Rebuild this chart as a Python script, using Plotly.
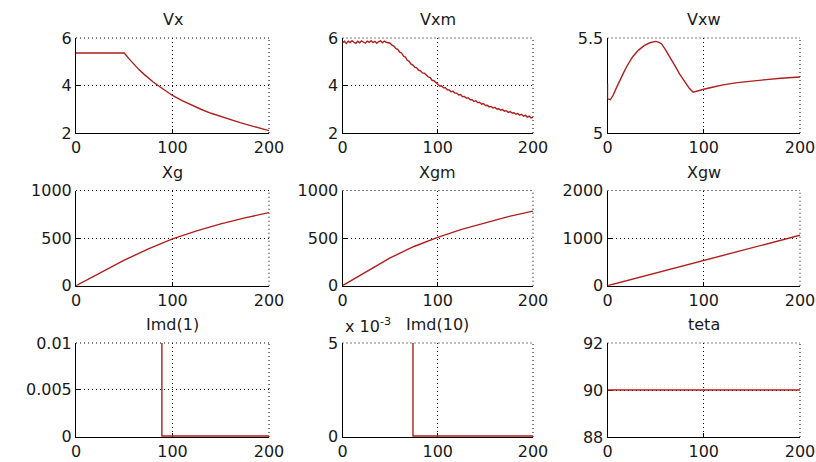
import plotly.graph_objects as go

# ---------------- data ----------------
vx_t = [0, 50, 55, 60, 65, 70, 75, 80, 85, 90, 95, 100, 110, 120, 130, 140, 150, 160, 170, 180, 190, 200]
vx_v = [5.37, 5.37, 5.12, 4.89, 4.68, 4.49, 4.31, 4.15, 4.00, 3.86, 3.72, 3.58, 3.36, 3.16, 2.99,
        2.83, 2.69, 2.56, 2.44, 2.32, 2.21, 2.10]

vxm_t = list(range(0, 201, 2))
vxm_v = [5.80, 5.86, 5.77, 5.87, 5.81, 5.89, 5.82, 5.77, 5.86, 5.80,
         5.88, 5.84, 5.78, 5.87, 5.82, 5.89, 5.81, 5.86, 5.78, 5.85,
         5.88, 5.80, 5.87, 5.82, 5.79, 5.78, 5.70, 5.66, 5.55, 5.52,
         5.40, 5.37, 5.24, 5.20, 5.06, 5.02, 4.90, 4.86, 4.76, 4.74,
         4.64, 4.62, 4.52, 4.52, 4.44, 4.36, 4.33, 4.22, 4.20, 4.10,
         4.05, 3.98, 3.99, 3.90, 3.91, 3.82, 3.81, 3.74, 3.76, 3.68,
         3.68, 3.60, 3.62, 3.53, 3.54, 3.46, 3.48, 3.40, 3.40, 3.33,
         3.36, 3.28, 3.29, 3.21, 3.24, 3.16, 3.17, 3.10, 3.12, 3.05,
         3.08, 3.01, 3.02, 2.96, 2.99, 2.92, 2.94, 2.87, 2.90, 2.84,
         2.85, 2.79, 2.82, 2.75, 2.79, 2.71, 2.74, 2.67, 2.71, 2.63,
         2.66]

vxw_t = [0, 0, 3, 6, 9, 12, 16, 20, 26, 32, 38, 44, 50, 53, 56, 60, 65, 70, 75, 80, 85, 89, 92,
         100, 110, 120, 135, 150, 165, 180, 200]
vxw_v = [5.26, 5.18, 5.175, 5.20, 5.235, 5.27, 5.31, 5.35, 5.40, 5.435, 5.46, 5.475, 5.482, 5.478,
         5.47, 5.44, 5.40, 5.355, 5.31, 5.27, 5.235, 5.215, 5.218, 5.23, 5.242, 5.253, 5.265,
         5.274, 5.281, 5.288, 5.295]

xg_t = [0, 25, 50, 75, 100, 125, 150, 175, 200]
xg_v = [0, 134, 268, 386, 492, 576, 650, 712, 768]
xgm_v = [0, 146, 292, 412, 508, 592, 664, 728, 784]

xgw_t = [0, 50, 100, 150, 200]
xgw_v = [0, 268, 534, 797, 1061]

imd1_t = [0, 89, 89, 200]
imd1_v = [1, 1, 0, 0]
imd10_t = [0, 74, 74, 200]
imd10_v = [1, 1, 0, 0]

teta_t = [0, 200]
teta_v = [90, 90]

titles = ["Vx", "Vxm", "Vxw", "Xg", "Xgm", "Xgw", "Imd(1)", "Imd(10)", "teta"]
x_ticks = [0, 100, 200]
y_ticks = [
    ([2, 4, 6], ["2", "4", "6"]),
    ([2, 4, 6], ["2", "4", "6"]),
    ([5, 5.5], ["5", "5.5"]),
    ([0, 500, 1000], ["0", "500", "1000"]),
    ([0, 500, 1000], ["0", "500", "1000"]),
    ([0, 1000, 2000], ["0", "1000", "2000"]),
    ([0, 0.005, 0.01], ["0", "0.005", "0.01"]),
    ([0, 0.005], ["0", "5"]),
    ([88, 90, 92], ["88", "90", "92"]),
]
y_ranges = [[2, 6], [2, 6], [5, 5.5], [0, 1000], [0, 1000], [0, 2000],
            [-0.0001, 0.01], [-0.00005, 0.005], [88, 92]]

series = [(vx_t, vx_v), (vxm_t, vxm_v), (vxw_t, vxw_v),
          (xg_t, xg_v), (xg_t, xgm_v), (xgw_t, xgw_v),
          (imd1_t, imd1_v), (imd10_t, imd10_v), (teta_t, teta_v)]

# ---------------- layout ----------------
W, H = 816, 462
col_px = [(76, 269), (342.5, 533), (607.5, 800)]
row_px = [(38, 133), (190.5, 285.7), (343, 437)]

LINE = "#b01e1e"
FONT = "DejaVu Sans"
TXT = "#1a1a1a"
DOT = "1px,3px"

fig = go.Figure()
layout = dict(
    template="none",
    width=W, height=H, margin=dict(l=0, r=0, t=0, b=0, pad=0), autosize=False,
    paper_bgcolor="white", plot_bgcolor="white", showlegend=False,
    font=dict(family=FONT, size=16, color=TXT),
)
annotations = []
shapes = []
for i, (t, v) in enumerate(series):
    r, c = divmod(i, 3)
    n = "" if i == 0 else str(i + 1)
    fig.add_trace(go.Scatter(x=t, y=v, mode="lines", line=dict(color=LINE, width=1.4),
                             xaxis="x" + n, yaxis="y" + n, hoverinfo="skip"))
    x0, x1 = col_px[c]
    yt, yb = row_px[r]
    common = dict(showline=True, linecolor="black", linewidth=1, mirror=False,
                  ticks="inside", ticklen=4, tickcolor="black", automargin=False,
                  showgrid=True, gridcolor="black", griddash=DOT, gridwidth=1,
                  zeroline=False, layer="below traces",
                  tickfont=dict(family=FONT, size=16, color=TXT))
    layout["xaxis" + n] = dict(common, domain=[x0 / W, x1 / W], range=[0, 200],
                               tickvals=x_ticks, anchor="y" + n)
    tv, tt = y_ticks[i]
    layout["yaxis" + n] = dict(common, domain=[1 - yb / H, 1 - yt / H], range=y_ranges[i],
                               tickvals=tv, ticktext=tt, anchor="x" + n)
    # dotted grid lines on the top and right edges (MATLAB style)
    shapes.append(dict(type="line", xref="x" + n + " domain", yref="y" + n + " domain",
                       x0=0, x1=1, y0=1, y1=1, layer="below",
                       line=dict(color="black", width=1, dash=DOT)))
    shapes.append(dict(type="line", xref="x" + n + " domain", yref="y" + n + " domain",
                       x0=1, x1=1, y0=0, y1=1, layer="below",
                       line=dict(color="black", width=1, dash=DOT)))
    annotations.append(dict(text=titles[i], xref="paper", yref="paper",
                            x=(x0 + x1) / 2 / W, y=1 - yt / H, yshift=7,
                            xanchor="center", yanchor="bottom", showarrow=False,
                            font=dict(family=FONT, size=16, color=TXT)))
    if i == 7:
        annotations.append(dict(text="x 10<sup>-3</sup>", xref="paper", yref="paper",
                                x=x0 / W, y=1 - yt / H, yshift=5, xanchor="left",
                                yanchor="bottom", showarrow=False,
                                font=dict(family=FONT, size=16, color=TXT)))

layout["annotations"] = annotations
layout["shapes"] = shapes
fig.update_layout(**layout)
fig.write_html("out.html", config={"displayModeBar": False},
               post_script="document.body.style.margin='0';document.body.style.overflow='hidden';")
